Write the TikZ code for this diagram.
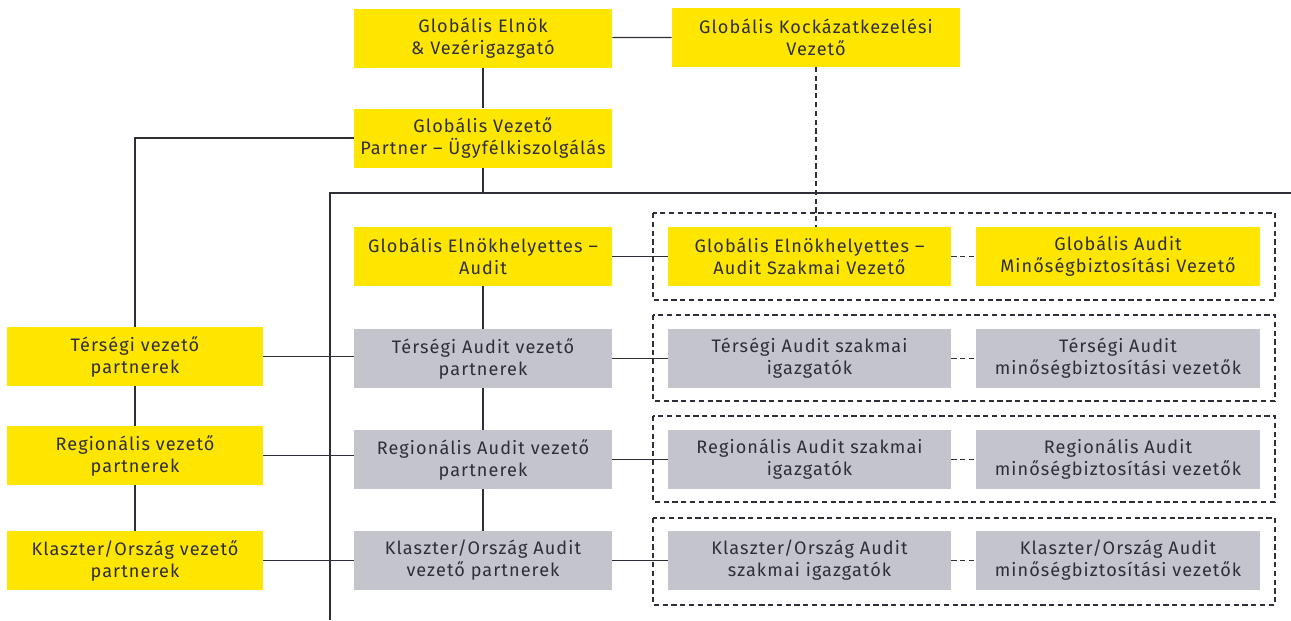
\documentclass[tikz,border=0pt]{standalone}
\usepackage{fontspec}
\setmainfont[LetterSpace=6]{Fira Sans}
\usepackage{tikz}

\definecolor{eyyellow}{HTML}{FFE600}
\definecolor{eygray}{HTML}{C4C4CD}
\definecolor{eyink}{HTML}{2E2E38}

\tikzset{
    ybox/.style = {fill=eyyellow, text=eyink, align=center, inner sep=0pt,
        minimum width=5.16cm, minimum height=1.18cm, font=\fontsize{10.3}{12.6}\selectfont},
    gbox/.style = {ybox, fill=eygray},
    link/.style = {draw=eyink, line width=0.7pt},
    heavy/.style = {draw=eyink, line width=1.3pt},
    dlink/.style = {draw=eyink, line width=0.6pt, dash pattern=on 3pt off 2pt},
}

\begin{document}
\begin{tikzpicture}[x=0.02cm, y=-0.02cm]
        \useasboundingbox (0,0) rectangle (1291,620);
        % top of the tree
        \node [ybox] (elnok) at (483,38) {Globális Elnök\\\& Vezérigazgató};
        \node [ybox, minimum width=5.76cm] (kockazat) at (816,37) {Globális Kockázatkezelési\\Vezető};
        \node [ybox] (ugyfel) at (483,138) {Globális Vezető\\Partner – Ügyfélkiszolgálás};
        % audit frame
        \draw [heavy] (330,620) -- (330,193) -- (1291,193);
        \coordinate (frametop) at (483,193);
        % dashed groups
        \draw [dlink] (653,213) rectangle (1275,300);
        \draw [dlink] (653,315) rectangle (1275,401);
        \draw [dlink] (653,416) rectangle (1275,502);
        \draw [dlink] (653,518) rectangle (1275,605);
        % global audit row
        \node [ybox] (elnhely) at (483,256.5) {Globális Elnökhelyettes –\\Audit};
        \node [ybox, minimum width=5.66cm] (szakmai) at (809.5,256.5) {Globális Elnökhelyettes –\\Audit Szakmai Vezető};
        \node [ybox, minimum width=5.68cm] (minoseg) at (1118,256.5) {Globális Audit\\Minőségbiztosítási Vezető};
        % area row
        \node [gbox] (tervez) at (483,358.5) {Térségi Audit vezető\\partnerek};
        \node [gbox, minimum width=5.66cm] (terszak) at (809.5,358.5) {Térségi Audit szakmai\\igazgatók};
        \node [gbox, minimum width=5.68cm] (termin) at (1118,358.5) {Térségi Audit\\minőségbiztosítási vezetők};
        % regional row
        \node [gbox] (regvez) at (483,459.5) {Regionális Audit vezető\\partnerek};
        \node [gbox, minimum width=5.66cm] (regszak) at (809.5,459.5) {Regionális Audit szakmai\\igazgatók};
        \node [gbox, minimum width=5.68cm] (regmin) at (1118,459.5) {Regionális Audit\\minőségbiztosítási vezetők};
        % cluster row
        \node [gbox] (klavez) at (483,560.5) {Klaszter/Ország Audit\\vezető partnerek};
        \node [gbox, minimum width=5.66cm] (klaszak) at (809.5,560.5) {Klaszter/Ország Audit\\szakmai igazgatók};
        \node [gbox, minimum width=5.68cm] (klamin) at (1118,560.5) {Klaszter/Ország Audit\\minőségbiztosítási vezetők};
        % left column
        \node [ybox, minimum width=5.12cm] (tersegi) at (135,356.5) {Térségi vezető\\partnerek};
        \node [ybox, minimum width=5.12cm] (regio) at (135,455.5) {Regionális vezető\\partnerek};
        \node [ybox, minimum width=5.12cm] (klaszter) at (135,560.5) {Klaszter/Ország vezető\\partnerek};
        % connectors
        \draw [link] (elnok) -- (kockazat);
        \draw [link] (elnok) -- (ugyfel);
        \draw [link] (ugyfel) -- (frametop);
        \draw [heavy] (ugyfel.west) -| (tersegi.north);
        \draw [dlink] (kockazat.south) -- (kockazat.south |- szakmai.north);
        \draw [link] (elnhely) -- (szakmai);
        \draw [dlink] (szakmai) -- (minoseg);
        \draw [link] (elnhely) -- (tervez);
        \draw [link] (tervez) -- (regvez);
        \draw [link] (regvez) -- (klavez);
        \draw [link] (tervez) -- (terszak);
        \draw [dlink] (terszak) -- (termin);
        \draw [link] (regvez) -- (regszak);
        \draw [dlink] (regszak) -- (regmin);
        \draw [link] (klavez) -- (klaszak);
        \draw [dlink] (klaszak) -- (klamin);
        \draw [link] (tersegi) -- (regio);
        \draw [link] (regio) -- (klaszter);
        \draw [link] (tersegi.east) -- (tersegi.east -| tervez.west);
        \draw [link] (regio.east) -- (regio.east -| regvez.west);
        \draw [link] (klaszter) -- (klavez);
    \end{tikzpicture}
\end{document}
